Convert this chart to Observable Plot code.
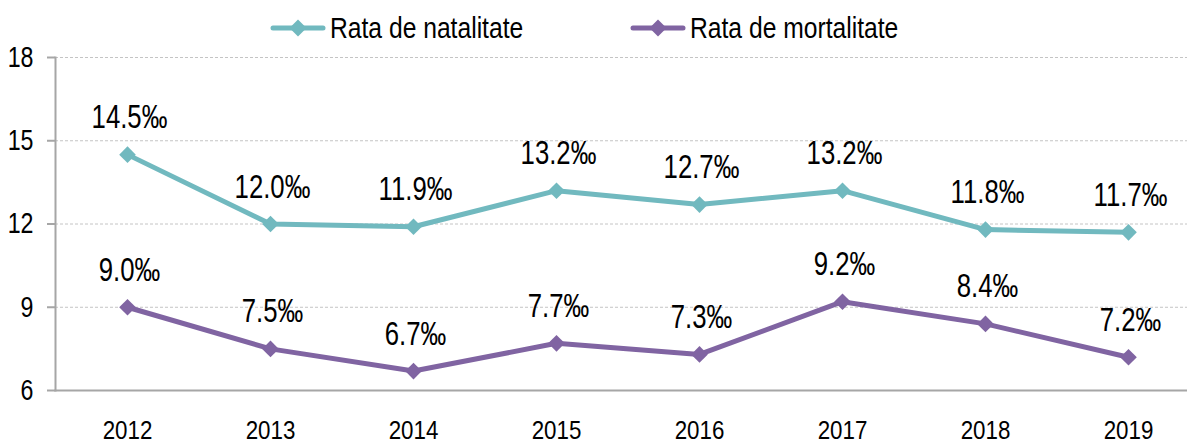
<!DOCTYPE html>
<html>
<head>
<meta charset="utf-8">
<script src="https://cdn.jsdelivr.net/npm/d3@7"></script>
<script src="https://cdn.jsdelivr.net/npm/@observablehq/plot@0.6"></script>
<style>
  html, body { margin: 0; padding: 0; background: #fff; }
  #wrap { position: relative; width: 1187px; height: 445px; overflow: hidden; }
  .legend-item { position: absolute; top: 0; height: 56px; display: flex; align-items: center;
    font-family: "Liberation Sans", Arial, sans-serif; font-size: 29px; color: #000; white-space: nowrap; }
  .legend-item svg { margin-right: 4px; flex: none; }
  .legend-item span { display: inline-block; transform: scaleX(0.85); transform-origin: left center; }
</style>
</head>
<body>
<div id="wrap"></div>
<script>
const years = ["2012", "2013", "2014", "2015", "2016", "2017", "2018", "2019"];
const natalitate = [14.5, 12.0, 11.9, 13.2, 12.7, 13.2, 11.8, 11.7];
const mortalitate = [9.0, 7.5, 6.7, 7.7, 7.3, 9.2, 8.4, 7.2];
const seriesNames = ["Rata de natalitate", "Rata de mortalitate"];
const seriesColors = ["#71B9BF", "#8064A2"];
const yTicks = [6, 9, 12, 15, 18];

const data = years.flatMap((year, i) => [
  {year, serie: seriesNames[0], value: natalitate[i]},
  {year, serie: seriesNames[1], value: mortalitate[i]}
]);

const font = '"Liberation Sans", Arial, sans-serif';

const chart = Plot.plot({
  width: 1187,
  height: 445,
  marginTop: 57,
  marginBottom: 55,
  marginLeft: 55,
  marginRight: 0,
  style: {fontFamily: font, background: "#fff", overflow: "visible"},
  x: {type: "point", domain: years, range: [126, 1129], padding: 0, label: null},
  y: {domain: [6, 18], label: null},
  color: {domain: seriesNames, range: seriesColors},
  marks: [
    Plot.gridY(yTicks.filter(t => t > 6), {stroke: "#c4c4c4", strokeOpacity: 1, strokeDasharray: "3,2"}),
    Plot.frame({anchor: "left", stroke: "#a6a6a6", strokeWidth: 2}),
    Plot.frame({anchor: "bottom", stroke: "#a6a6a6", strokeWidth: 2}),
    Plot.axisY({ticks: yTicks, tickSize: 8, tickPadding: 14, fontSize: 29, stroke: "#a6a6a6", strokeWidth: 2, fill: "#000", label: null}),
    Plot.axisX({tickSize: 0, tickPadding: 30, fontSize: 26, fill: "#000", label: null}),
    Plot.line(data, {x: "year", y: "value", z: "serie", stroke: "serie", strokeWidth: 5}),
    Plot.dot(data, {x: "year", y: "value", fill: "serie", symbol: "diamond2", r: 7.5}),
    Plot.text(data, {x: "year", y: "value", text: d => d.value.toFixed(1) + "‰", dy: -37, dx: 2, fontSize: 33, fill: "#000"})
  ]
});

const wrap = document.getElementById("wrap");
wrap.appendChild(chart);

// Narrow the text glyphs horizontally (the reference uses a condensed face)
function condense(selector, factor) {
  chart.querySelectorAll(selector).forEach(t => {
    const len = t.getComputedTextLength();
    if (len > 0) {
      t.setAttribute("textLength", (len * factor).toFixed(1));
      t.setAttribute("lengthAdjust", "spacingAndGlyphs");
    }
  });
}
condense('g[aria-label="y-axis tick label"] text', 0.8);
condense('g[aria-label="x-axis tick label"] text', 0.86);
condense('g[aria-label="text"] text', 0.78);

// Legend
const legendLefts = [270, 630];
seriesNames.forEach((name, i) => {
  const item = document.createElement("div");
  item.className = "legend-item";
  item.style.left = legendLefts[i] + "px";
  const c = seriesColors[i];
  item.innerHTML = `<svg width="56" height="20" viewBox="0 0 56 20">
      <line x1="3" y1="10" x2="53" y2="10" stroke="${c}" stroke-width="5" stroke-linecap="round"/>
      <path d="M28,1.5 L36.5,10 L28,18.5 L19.5,10 Z" fill="${c}"/>
    </svg><span>${name}</span>`;
  wrap.appendChild(item);
});
</script>
</body>
</html>
